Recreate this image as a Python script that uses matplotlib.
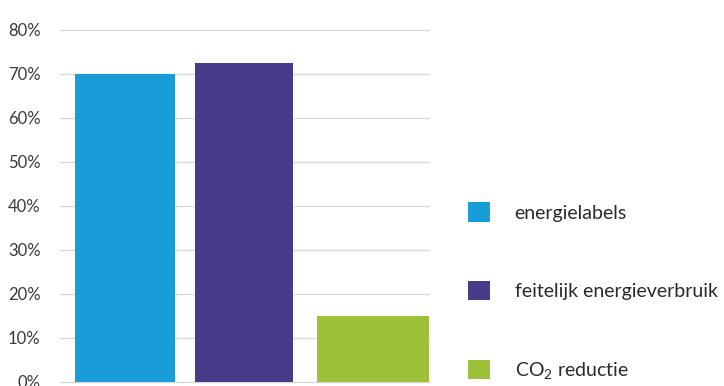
import matplotlib.pyplot as plt
from matplotlib.patches import Patch

plt.rcParams['font.family'] = ['Lato', 'DejaVu Sans']
plt.rcParams['mathtext.fontset'] = 'custom'
plt.rcParams['mathtext.rm'] = 'Lato'
plt.rcParams['mathtext.it'] = 'Lato'

categories = ['energielabels', 'feitelijk energieverbruik', 'CO$_2$ reductie']
values = [70, 72.5, 15]
colors = ['#189dd9', '#483c8a', '#9dc23a']
yticks = [0, 10, 20, 30, 40, 50, 60, 70, 80]
ytick_labels = ['0%', '10%', '20%', '30%', '40%', '50%', '60%', '70%', '80%']

fig = plt.figure(figsize=(7.24, 3.86), dpi=100)
ax = fig.add_axes([0.083, 0.011, 0.51, 0.9125])

# bars are not all equally wide in the original
ax.bar([0, 0.96, 2], values, width=[0.81, 0.79, 0.9], color=colors, zorder=2)
ax.set_xlim(-0.524, 2.452)
ax.set_ylim(0, 80)
ax.set_yticks(yticks)
ax.set_yticklabels(ytick_labels, fontsize=12, color='#3a3a3a')
ax.set_xticks([])
ax.tick_params(axis='y', length=0, pad=14)
ax.grid(axis='y', color='#d9d9d9', linewidth=1, zorder=0)
for s in ax.spines.values():
    s.set_visible(False)
for gl in ax.get_ygridlines():
    gl.set_clip_on(False)

handles = [Patch(facecolor=c, edgecolor='none') for c in colors]
fig.legend(handles, categories, loc='upper left', bbox_to_anchor=(0.6464, 0.4754),
           frameon=False, fontsize=14, labelcolor='#2a2a2a',
           handlelength=1.15, handleheight=1.15, handletextpad=1.25,
           labelspacing=3.05, borderaxespad=0, borderpad=0)

fig.savefig('out.png', dpi=100)
